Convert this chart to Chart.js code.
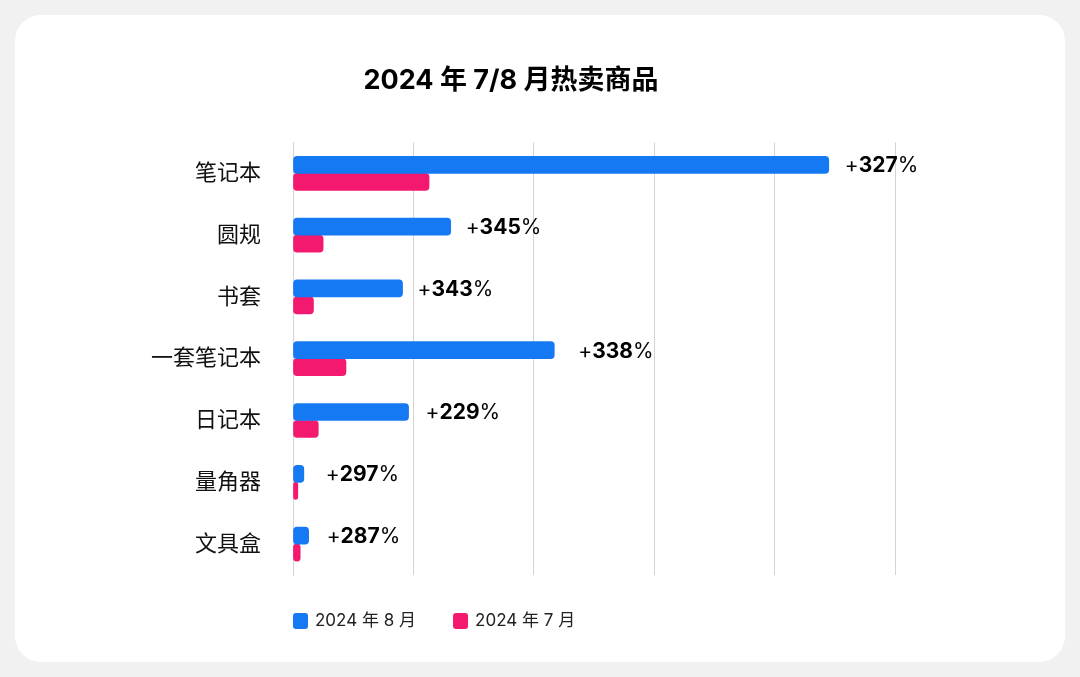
<!DOCTYPE html>
<html lang="zh">
<head>
<meta charset="utf-8" />
<style>
  * { margin: 0; padding: 0; }
  body { width: 1080px; height: 677px; background: #f1f1f1; overflow: hidden; }
  .card { position: absolute; left: 15px; top: 15px; width: 1050px; height: 647px; background: #fff; border-radius: 26px; }
  canvas { position: absolute; left: 0; top: 0; }
</style>
</head>
<body>
<div class="card"></div>
<canvas id="c" width="1080" height="677"></canvas>
<script src="https://cdn.jsdelivr.net/npm/chart.js"></script>
<script>
const categories = ['笔记本', '圆规', '书套', '一套笔记本', '日记本', '量角器', '文具盒'];
const aug = [445, 131, 91, 217, 96, 9, 13];
const jul = [113, 25, 17, 44, 21, 4, 6];
const growth = ['327', '345', '343', '338', '229', '297', '287'];
const labelOffset = [16, 15, 15, 24, 17, 22, 18];

const font = "Inter, 'Noto Sans CJK SC', sans-serif";

// growth labels after the blue bars
const growthLabels = {
  id: 'growthLabels',
  afterDatasetsDraw(chart) {
    const { ctx } = chart;
    const meta = chart.getDatasetMeta(0);
    ctx.save();
    ctx.fillStyle = '#000';
    ctx.textBaseline = 'middle';
    meta.data.forEach((bar, i) => {
      let x = bar.x + labelOffset[i];
      const y = bar.y + 1;
      ctx.font = '400 21px ' + font;
      ctx.fillText('+', x, y);
      x += ctx.measureText('+').width;
      ctx.font = '700 21px ' + font;
      ctx.fillText(growth[i], x, y);
      x += ctx.measureText(growth[i]).width;
      ctx.font = '400 21px ' + font;
      ctx.fillText('%', x, y);
    });
    ctx.restore();
  }
};

// legend drawn under the plot, starting at the axis
const bottomLegend = {
  id: 'bottomLegend',
  afterDraw(chart) {
    const { ctx, chartArea: { left } } = chart;
    const y = 621;
    let x = left;
    ctx.save();
    ctx.textBaseline = 'middle';
    ctx.font = '400 17px ' + font;
    chart.data.datasets.forEach((ds) => {
      ctx.fillStyle = ds.backgroundColor;
      ctx.beginPath();
      ctx.roundRect(x, y - 8, 15, 16, 3);
      ctx.fill();
      ctx.fillStyle = '#222';
      ctx.fillText(ds.label, x + 22, y);
      x += 22 + ctx.measureText(ds.label).width + 37;
    });
    ctx.restore();
  }
};

new Chart(document.getElementById('c'), {
  type: 'bar',
  data: {
    labels: categories,
    datasets: [
      { label: '2024 年 8 月', data: aug, backgroundColor: '#1479f2', borderRadius: 4, borderSkipped: false,
        barThickness: 17 },
      { label: '2024 年 7 月', data: jul, backgroundColor: '#f2196f', borderRadius: 4, borderSkipped: false,
        barThickness: 17 }
    ]
  },
  options: {
    indexAxis: 'y',
    responsive: false,
    animation: false,
    layout: { padding: { left: 127, right: 185, top: 65, bottom: 102 } },
    scales: {
      x: {
        min: 0, max: 500,
        ticks: { display: false, stepSize: 100 },
        grid: { color: '#d4d4d4', drawTicks: false },
        border: { display: false }
      },
      y: {
        ticks: { color: '#111', font: { family: font, size: 22 }, padding: 24 },
        grid: { display: false },
        border: { color: '#d4d4d4' }
      }
    },
    plugins: {
      title: {
        display: true,
        text: '2024 年 7/8 月热卖商品',
        color: '#000',
        font: { family: font, size: 27, weight: '700' },
        padding: { top: 0, bottom: 45 }
      },
      legend: { display: false },
      tooltip: { enabled: false }
    }
  },
  plugins: [growthLabels, bottomLegend]
});
</script>
</body>
</html>
